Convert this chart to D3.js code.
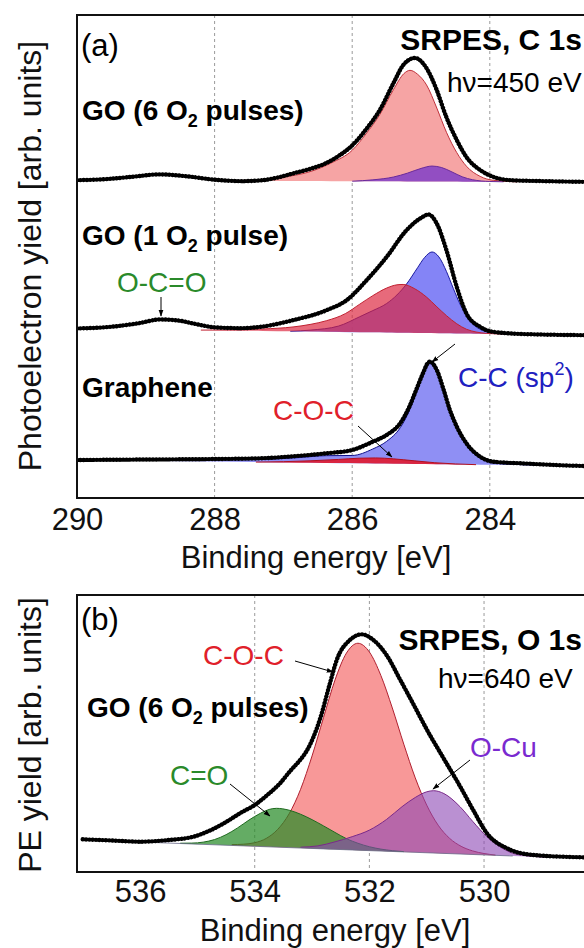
<!DOCTYPE html>
<html><head><meta charset="utf-8">
<script src="https://cdn.jsdelivr.net/npm/d3@7/dist/d3.min.js"></script>
<style>
body{margin:0;background:#fff}
svg{display:block}
text{font-family:"Liberation Sans",Arial,sans-serif}
</style>
</head><body>
<svg id="chart" width="584" height="948"></svg>
<script>
// ---------- DATA (binding energy [eV], intensity [arb. units]) ----------
// Panel (a) C 1s
const ticksA = [290, 288, 286, 284];
const offsetsA = {go6: 65.8, go1: 35.1, gr: 7.87};      // vertical offsets of the stacked spectra
const bgA = {go6: [0, -0.4], go1: [0, -1.4], gr: [0, -1.25]}; // linear background at 290 and 282.5 eV

const go6Data = [[290,0],[289.6,0.2],[289.2,0.7],[288.8,1.2],[288.4,0.8],[288.0,0.1],[287.6,-0.2],[287.3,0.0],[287.1,0.5],[286.86,1.4],[286.6,2.4],[286.4,3.4],[286.2,5.0],[286.0,7.2],[285.8,10.5],[285.6,14.5],[285.4,20.1],[285.26,23.8],[285.09,25.3],[284.92,23.2],[284.77,18.6],[284.63,13.0],[284.48,8.3],[284.34,4.8],[284.14,2.1],[283.95,0.7],[283.7,0.0],[283.2,-0.2],[282.6,-0.35],[282.0,-0.4]];
const go6COC = [[287.8,0],[287.3,0.3],[287.0,0.8],[286.6,2.0],[286.3,3.8],[286.0,6.4],[285.8,9.8],[285.6,13.8],[285.4,19.0],[285.25,22.3],[285.16,23.0],[285.05,22.2],[284.92,20.0],[284.77,15.2],[284.63,10.2],[284.48,6.0],[284.34,3.2],[284.14,1.1],[283.95,0.3],[283.6,0]];
const go6CC = [[286.0,0],[285.7,0.3],[285.4,0.9],[285.2,1.7],[285.0,2.7],[284.84,3.2],[284.7,2.9],[284.55,2.0],[284.4,1.0],[284.25,0.4],[284.0,0.05],[283.8,0]];

const go1Data = [[290,0],[289.52,0.33],[289.1,1.1],[288.79,1.86],[288.5,1.6],[288.31,1.03],[287.97,0.2],[287.6,0.06],[287.34,0.33],[286.86,1.72],[286.37,3.79],[286.08,5.86],[285.79,10.0],[285.5,14.8],[285.21,20.35],[285.01,22.8],[284.89,23.6],[284.77,21.7],[284.63,16.2],[284.48,8.6],[284.34,3.1],[284.14,0.33],[283.95,-0.7],[283.46,-1.18],[282.6,-1.39],[282.0,-1.45]];
const go1CC = [[286.9,0],[286.6,0.3],[286.2,1.2],[285.89,3.2],[285.7,4.5],[285.5,6.0],[285.35,7.8],[285.21,10.1],[285.05,13.5],[284.95,15.6],[284.84,16.8],[284.74,15.8],[284.63,12.8],[284.53,9.3],[284.43,6.0],[284.33,3.6],[284.24,1.9],[284.1,0.7],[283.9,0.1],[283.6,0]];
const go1COC = [[288.2,0],[287.8,0.1],[287.3,0.4],[286.86,0.9],[286.6,1.5],[286.37,2.3],[286.1,3.8],[285.89,5.8],[285.7,7.6],[285.5,9.2],[285.35,9.9],[285.26,10.0],[285.1,9.2],[284.92,7.45],[284.78,5.6],[284.63,3.66],[284.48,2.0],[284.34,0.9],[284.2,0.35],[284.05,0.1],[283.8,0]];

const grData = [[290,0],[289.0,0.1],[288.0,0.2],[287.34,0.35],[286.8,0.83],[286.37,1.39],[286.0,2.07],[285.7,3.79],[285.5,5.18],[285.3,7.66],[285.17,11.0],[285.07,14.5],[284.97,18.0],[284.9,20.1],[284.87,20.35],[284.77,18.6],[284.67,14.5],[284.58,10.35],[284.48,6.9],[284.34,3.46],[284.14,0.68],[283.95,-0.35],[283.5,-0.72],[282.6,-1.24],[282.0,-1.3]];
const grCC = [[290,0.05],[289,0.15],[288,0.35],[287.34,0.55],[286.8,1.0],[286.37,1.5],[286.0,1.6],[285.7,3.0],[285.5,4.6],[285.3,7.5],[285.17,11.0],[285.07,14.7],[284.97,18.4],[284.87,20.8],[284.77,19.1],[284.67,15.0],[284.58,10.9],[284.48,7.5],[284.34,4.1],[284.14,1.4],[283.95,0.4],[283.5,0.1],[283.0,0.02],[282.0,0]];
const grCOC = [[287.4,0],[287.0,0.15],[286.6,0.4],[286.2,0.75],[285.9,1.05],[285.66,1.15],[285.4,1.0],[285.1,0.65],[284.8,0.3],[284.5,0.1],[284.2,0]];

// Panel (b) O 1s
const ticksB = [536, 534, 532, 530];
const bgB = [[536, 10.83], [529.5, 5.78]];  // linear background
const o1sData = [[537.0,11.8],[536.5,11.37],[536.0,10.94],[535.5,11.55],[535.07,12.74],[534.8,14.8],[534.49,18.16],[534.25,21.3],[534.0,24.19],[533.78,27.8],[533.56,32.0],[533.38,36.5],[533.21,40.4],[533.1,43.5],[532.98,48.5],[532.85,56.0],[532.69,68.0],[532.57,76.5],[532.34,83.75],[532.13,85.8],[531.93,83.75],[531.7,78.3],[531.46,69.3],[531.23,60.5],[531.0,51.5],[530.71,41.2],[530.42,31.0],[530.19,22.4],[529.95,14.0],[529.6,8.56],[529.14,6.14],[528.28,5.3],[528.0,5.2]];
const o1sCOC = [[534.4,0.3],[534.2,0.6],[534.0,1.3],[533.8,3.0],[533.6,6.4],[533.4,12.2],[533.2,21.2],[533.0,33.4],[532.8,47.4],[532.6,61.1],[532.4,71.0],[532.2,74.7],[532.0,71.7],[531.8,63.4],[531.6,51.8],[531.4,38.9],[531.2,26.9],[531.0,17.2],[530.8,10.1],[530.6,5.5],[530.4,2.8],[530.2,1.3],[530.0,0.5],[529.8,0.1]];
const o1sCO = [[535.3,0.1],[535.1,0.3],[534.9,0.8],[534.7,1.9],[534.5,3.8],[534.3,6.4],[534.1,9.4],[533.9,12.0],[533.75,13.5],[533.62,14.0],[533.4,13.5],[533.2,12.2],[533.0,10.4],[532.8,8.3],[532.6,6.1],[532.4,4.0],[532.2,2.5],[532.0,1.4],[531.8,0.7],[531.6,0.3],[531.4,0.1]];
const o1sOCu = [[533.2,0.3],[532.9,1.0],[532.6,2.7],[532.3,4.8],[532.0,7.4],[531.7,11.5],[531.43,16.3],[531.2,19.8],[531.0,22.0],[530.88,22.5],[530.7,21.6],[530.42,17.1],[530.2,12.0],[529.95,6.6],[529.75,3.5],[529.5,1.0],[529.2,0.2],[528.9,0]];

// ---------- DRAWING ----------
const svg = d3.select("#chart");
const defs = svg.append("defs");
defs.append("marker").attr("id","arr").attr("viewBox","0 0 10 10").attr("refX",9).attr("refY",5)
  .attr("markerWidth",7).attr("markerHeight",7).attr("orient","auto-start-reverse")
  .append("path").attr("d","M0,1.5 L10,5 L0,8.5 Z").attr("fill","#000");

function panel(cfg){
  const g = svg.append("g");
  const x = d3.scaleLinear().domain(cfg.xDomain).range(cfg.xRange);
  const y = d3.scaleLinear().domain([0,100]).range([cfg.bottom, cfg.top]);
  const cid = "clip"+cfg.id;
  defs.append("clipPath").attr("id",cid).append("rect")
    .attr("x",cfg.xRange[0]).attr("y",cfg.top).attr("width",600).attr("height",cfg.bottom-cfg.top);
  g.append("g").selectAll("line").data(cfg.ticks.slice(1)).join("line")
    .attr("x1",d=>x(d)).attr("x2",d=>x(d)).attr("y1",cfg.top).attr("y2",cfg.bottom)
    .attr("stroke","#9a9a9a").attr("stroke-width",1).attr("stroke-dasharray","3,3");
  const plot = g.append("g").attr("clip-path",`url(#${cid})`);
  const ax = g.append("g").attr("transform",`translate(0,${cfg.bottom})`)
    .call(d3.axisBottom(x).tickValues(cfg.ticks).tickSize(0).tickPadding(cfg.pad).tickFormat(d3.format("d")));
  ax.select(".domain").remove();
  ax.selectAll("text").attr("font-size",31).attr("font-family","Liberation Sans, Arial, sans-serif").attr("fill","#111");
  g.append("path").attr("d",`M${cfg.xRange[1]},${cfg.top}H${cfg.xRange[0]}V${cfg.bottom}H${cfg.xRange[1]}`)
    .attr("fill","none").attr("stroke","#111").attr("stroke-width",2);
  return {g, plot, x, y};
}

function drawComp(P, arr, base, bgScale, fill, stroke){
  const area = d3.area().curve(d3.curveMonotoneX)
    .x(d=>P.x(d[0])).y0(d=>P.y(base+bgScale(d[0]))).y1(d=>P.y(base+bgScale(d[0])+d[1]));
  const line = d3.line().curve(d3.curveMonotoneX)
    .x(d=>P.x(d[0])).y(d=>P.y(base+bgScale(d[0])+d[1]));
  P.plot.append("path").datum(arr).attr("d",area).attr("fill",fill).attr("stroke","none");
  P.plot.append("path").datum(arr).attr("d",line).attr("fill","none").attr("stroke",stroke).attr("stroke-width",1);
}
function drawData(P, arr, base){
  const line = d3.line().curve(d3.curveMonotoneX).x(d=>P.x(d[0])).y(d=>P.y(base+d[1]));
  P.plot.append("path").datum(arr).attr("d",line).attr("fill","none").attr("stroke","#000").attr("stroke-width",2.4);
  P.plot.append("path").datum(arr).attr("d",line).attr("fill","none").attr("stroke","#000")
    .attr("stroke-width",4.4).attr("stroke-linecap","round").attr("stroke-dasharray","0.1 3.2");
}

// ----- Panel (a)
const A = panel({id:"a", xDomain:[290,282], xRange:[77,627.4], top:15, bottom:498, ticks:ticksA, pad:10});
const bgScaleA = k => d3.scaleLinear().domain([290,282.5]).range(bgA[k]);
drawComp(A, go6COC, offsetsA.go6, bgScaleA("go6"), "#f6a4a4", "#c0303a");
drawComp(A, go6CC, offsetsA.go6, bgScaleA("go6"), "rgba(128,64,200,0.85)", "#6a2a9a");
drawData(A, go6Data, offsetsA.go6);
drawComp(A, go1CC, offsetsA.go1, bgScaleA("go1"), "rgba(110,110,245,0.85)", "#1a1aa0");
drawComp(A, go1COC, offsetsA.go1, bgScaleA("go1"), "rgba(220,35,60,0.68)", "#c02030");
drawData(A, go1Data, offsetsA.go1);
drawComp(A, grCC, offsetsA.gr, bgScaleA("gr"), "#8f8ff4", "#10108a");
drawComp(A, grCOC, offsetsA.gr, bgScaleA("gr"), "rgba(225,25,45,0.9)", "#b01020");
drawData(A, grData, offsetsA.gr);

// ----- Panel (b)
const B = panel({id:"b", xDomain:[537.1,528.0], xRange:[77,598.7], top:595, bottom:872, ticks:ticksB, pad:8});
const bgScaleB = d3.scaleLinear().domain(bgB.map(d=>d[0])).range(bgB.map(d=>d[1]));
drawComp(B, o1sCOC, 0, bgScaleB, "#f89898", "#b02030");
drawComp(B, o1sCO, 0, bgScaleB, "rgba(40,140,40,0.72)", "#1f6a1f");
drawComp(B, o1sOCu, 0, bgScaleB, "rgba(140,70,180,0.6)", "#7a2a8a");
B.plot.append("path").datum(bgB).attr("d", d3.line().x(d=>B.x(d[0])).y(d=>B.y(d[1])))
  .attr("stroke","#6a6a8a").attr("stroke-width",0.8).attr("fill","none");
drawData(B, o1sData, 0);

// ---------- TEXT ----------
function txt(t, x, y, o){
  o = o||{};
  const e = svg.append("text").attr("x",x).attr("y",y).attr("font-size",o.size||28)
    .attr("font-weight",o.bold?"bold":"normal").attr("fill",o.color||"#000")
    .attr("text-anchor",o.anchor||"start");
  if(o.family) e.attr("font-family",o.family);
  if(t) e.append("tspan").text(t);
  return e;
}
function goLabel(x, y, n, word){
  const e = txt("", x, y, {bold:true});
  e.append("tspan").text(`GO (${n} O`);
  e.append("tspan").text("2").attr("font-size",18).attr("dy",7);
  e.append("tspan").text(` ${word})`).attr("dy",-7);
}
function arrow(x1,y1,x2,y2){
  svg.append("line").attr("x1",x1).attr("y1",y1).attr("x2",x2).attr("y2",y2)
    .attr("stroke","#000").attr("stroke-width",1).attr("marker-end","url(#arr)");
}

txt("Binding energy [eV]", 316, 568, {size:31, anchor:"middle", color:"#111"});
txt("Binding energy [eV]", 335, 941, {size:31, anchor:"middle", color:"#111"});
txt("Photoelectron yield [arb. units]", 0, 0, {size:32, anchor:"middle", color:"#111"})
  .attr("transform","translate(41,256) rotate(-90)");
txt("PE yield [arb. units]", 0, 0, {size:32, anchor:"middle", color:"#111"})
  .attr("transform","translate(41,735) rotate(-90)");

txt("(a)", 81, 56, {size:31, family:"Lato, 'Open Sans', sans-serif"});
txt("SRPES, C 1s", 582, 50, {size:30, bold:true, anchor:"end"});
txt("h\u03bd=450 eV", 447, 92, {size:28});
goLabel(82, 120, 6, "pulses");
goLabel(82, 245, 1, "pulse");
txt("O-C=O", 117, 292, {size:28, color:"#2a8a2a"});
arrow(161, 297, 161, 316);
txt("Graphene", 82, 397, {bold:true});
txt("C-O-C", 273, 420, {size:28, color:"#e0202a"});
arrow(358, 426, 392, 457);
const cc = txt("C-C (sp", 458, 387, {size:28, color:"#2020c0"});
cc.append("tspan").text("2").attr("font-size",18).attr("dy",-12);
cc.append("tspan").text(")").attr("dy",12);
arrow(455, 344, 432, 362);

txt("(b)", 81, 630, {size:31, family:"Lato, 'Open Sans', sans-serif"});
txt("SRPES, O 1s", 582, 650, {size:30, bold:true, anchor:"end"});
txt("h\u03bd=640 eV", 438, 688, {size:28});
txt("C-O-C", 203, 665, {size:28, color:"#e0202a"});
arrow(295, 661, 333, 672);
goLabel(87, 717, 6, "pulses");
txt("O-Cu", 470, 757, {size:28, color:"#7a2ad0"});
arrow(470, 760, 433, 789);
txt("C=O", 170, 785, {size:28, color:"#2a8a2a"});
arrow(230, 784, 270, 816);
</script>
</body></html>
